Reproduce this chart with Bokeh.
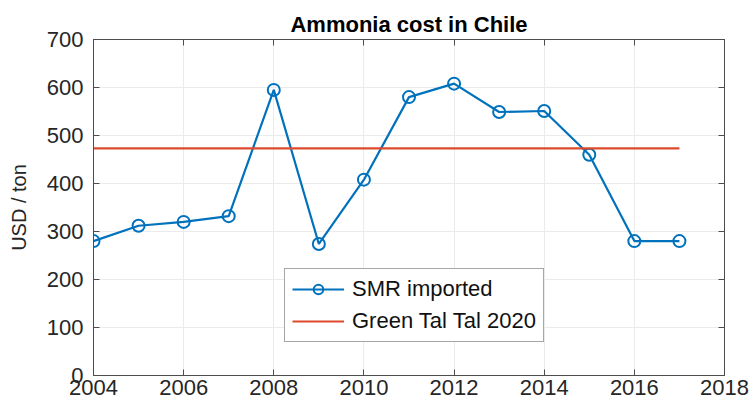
from bokeh.plotting import figure
from bokeh.models import LinearAxis, FixedTicker, Range1d, Legend, LegendItem, ColumnDataSource
from bokeh.embed import file_html
from bokeh.resources import INLINE

years = [2004, 2005, 2006, 2007, 2008, 2009, 2010, 2011, 2012, 2013, 2014, 2015, 2016, 2017]
smr_imported = [280, 312, 320, 332, 595, 274, 408, 580, 608, 549, 551, 460, 280, 280]
green_years = [2004, 2017]
green_tal_tal = [473, 473]
x_ticks = [2004, 2006, 2008, 2010, 2012, 2014, 2016, 2018]
y_ticks = [0, 100, 200, 300, 400, 500, 600, 700]

FONT = "Liberation Sans"
BLUE = "#0072BD"
RED = "#DE4A2C"
AX = "#4d4d4d"

p = figure(width=754, height=406, output_backend="svg", toolbar_location=None,
           x_range=Range1d(2004, 2018), y_range=Range1d(0, 700),
           min_border_left=93, min_border_right=30, min_border_top=39, min_border_bottom=31)

p.title.text = "Ammonia cost in Chile"
p.title.text_font = FONT
p.title.text_font_size = "22px"
p.title.text_font_style = "bold"
p.title.align = "center"
p.title.text_color = "#000000"
p.title.offset = 0
p.title.standoff = 5

for ax in (p.xaxis[0], p.yaxis[0]):
    ax.major_label_text_font = FONT
    ax.major_label_text_font_size = "22px"
    ax.major_label_text_color = "#262626"
    ax.axis_line_color = AX
    ax.major_tick_in = 6
    ax.major_tick_out = 0
    ax.major_tick_line_color = AX
    ax.minor_tick_line_color = None

p.xaxis[0].ticker = FixedTicker(ticks=x_ticks)
p.yaxis[0].ticker = FixedTicker(ticks=y_ticks)
p.xaxis[0].major_label_standoff = 4
p.yaxis[0].major_label_standoff = 10
p.yaxis[0].axis_label = "USD / ton"
p.yaxis[0].axis_label_text_font = FONT
p.yaxis[0].axis_label_text_font_size = "20px"
p.yaxis[0].axis_label_text_font_style = "normal"
p.yaxis[0].axis_label_text_color = "#262626"
p.yaxis[0].axis_label_standoff = 14

top = LinearAxis(ticker=FixedTicker(ticks=x_ticks), major_label_text_font_size="1px",
                 major_label_text_color=None,
                 major_tick_in=6, major_tick_out=0, minor_tick_line_color=None,
                 axis_line_color=AX, major_tick_line_color=AX,
                 major_label_standoff=0)
right = LinearAxis(ticker=FixedTicker(ticks=y_ticks), major_label_text_font_size="1px",
                   major_label_text_color=None,
                   major_tick_in=6, major_tick_out=0, minor_tick_line_color=None,
                   axis_line_color=AX, major_tick_line_color=AX,
                   major_label_standoff=0)
p.add_layout(top, "above")
p.add_layout(right, "right")

p.xgrid.ticker = FixedTicker(ticks=x_ticks)
p.ygrid.ticker = FixedTicker(ticks=y_ticks)
p.grid.grid_line_color = "#ebebeb"
p.grid.grid_line_width = 1
p.outline_line_color = AX

src = ColumnDataSource(dict(x=years, y=smr_imported))
l1 = p.line("x", "y", source=src, line_color=BLUE, line_width=2.2)
c1 = p.scatter("x", "y", source=src, marker="circle", size=12, fill_color=None,
               line_color=BLUE, line_width=2)
l2 = p.line(green_years, green_tal_tal, line_color=RED, line_width=2.2)

legend = Legend(items=[LegendItem(label="SMR imported", renderers=[l1, c1]),
                       LegendItem(label="Green Tal Tal 2020", renderers=[l2])],
                location=(191, 33))
legend.label_text_font = FONT
legend.label_text_font_size = "22px"
legend.label_text_color = "#111111"
legend.border_line_color = AX
legend.border_line_width = 1
legend.glyph_width = 52
legend.glyph_height = 24
legend.label_height = 24
legend.label_standoff = 8
legend.spacing = 6
legend.padding = 7
legend.margin = 0
legend.background_fill_alpha = 1
p.add_layout(legend, "center")

open("out.html", "w").write(file_html(p, INLINE))
